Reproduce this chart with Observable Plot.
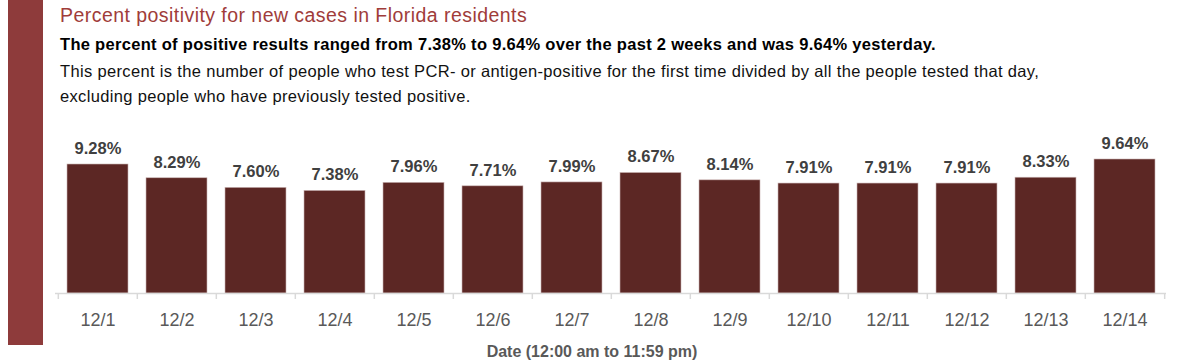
<!DOCTYPE html>
<html><head><meta charset="utf-8">
<script src="https://cdn.jsdelivr.net/npm/d3@7"></script>
<script src="https://cdn.jsdelivr.net/npm/@observablehq/plot@0.6"></script>
<style>
body{margin:0;background:#fff;font-family:"Liberation Sans",Arial,sans-serif;}
#wrap{position:relative;width:1200px;height:364px;overflow:hidden;}
#bar{position:absolute;left:8px;top:0;width:35px;height:345px;background:#8e3b3b;z-index:2;}
.t{position:absolute;left:60px;white-space:nowrap;}
#title{top:4px;font-size:19.5px;letter-spacing:0.45px;color:#a03c3a;}
#sub{top:35px;font-size:16.5px;letter-spacing:0.3px;font-weight:bold;color:#000;}
#d1{top:62px;font-size:16.5px;letter-spacing:0.34px;color:#111;}
#d2{top:87px;font-size:16.5px;letter-spacing:0.34px;color:#111;}
#chart{position:absolute;left:0;top:115px;z-index:1;}
</style></head>
<body><div id="wrap">
<div id="bar"></div>
<div class="t" id="title">Percent positivity for new cases in Florida residents</div>
<div class="t" id="sub">The percent of positive results ranged from 7.38% to 9.64% over the past 2 weeks and was 9.64% yesterday.</div>
<div class="t" id="d1">This percent is the number of people who test PCR- or antigen-positive for the first time divided by all the people tested that day,</div>
<div class="t" id="d2">excluding people who have previously tested positive.</div>
<div id="chart"></div>
</div>
<script>
const dates = ["12/1","12/2","12/3","12/4","12/5","12/6","12/7","12/8","12/9","12/10","12/11","12/12","12/13","12/14"];
const positivity = [9.28,8.29,7.60,7.38,7.96,7.71,7.99,8.67,8.14,7.91,7.91,7.91,8.33,9.64];
const axisTitle = "Date (12:00 am to 11:59 pm)";
const data = dates.map((d,i)=>({date:d, value:positivity[i]}));
const W=1200, H=249, mL=55, mR=34;
const step=(W-mL-mR)/dates.length;
const chart = Plot.plot({
  width:W, height:H, marginLeft:mL, marginRight:mR, marginTop:39, marginBottom:71,
  style:{fontFamily:"Liberation Sans, Arial, sans-serif", background:"transparent"},
  x:{domain:dates, paddingInner:0.23, paddingOuter:0.115, label:null},
  y:{domain:[0,10], axis:null},
  marks:[
    Plot.barY(data,{x:"date", y:"value", fill:"#5c2724", stroke:"#c9b3b2", strokeWidth:0.6}),
    Plot.text(data,{x:"date", y:"value", text:d=>d.value.toFixed(2)+"%", dy:-16, fill:"#404040", fontSize:16.5, fontWeight:"bold"}),
    Plot.ruleY([0],{stroke:"#d9d9d9", strokeWidth:1.5}),
    Plot.axisX({tickSize:6, dx:-step/2, tickFormat:()=>"", stroke:"#d9d9d9", strokeWidth:1.5, label:null}),
    Plot.axisX([dates[dates.length-1]],{tickSize:6, dx:step/2, tickFormat:()=>"", stroke:"#d9d9d9", strokeWidth:1.5, label:null}),
    Plot.axisX({tickSize:0, tickPadding:20, fontSize:18, letterSpacing:0.5, fill:"#595959", label:null}),
    Plot.text([axisTitle],{frameAnchor:"bottom", dx:-19, dy:63, fontSize:16, fontWeight:"bold", fill:"#595959"})
  ]
});
document.getElementById("chart").appendChild(chart);
</script>
</body></html>
